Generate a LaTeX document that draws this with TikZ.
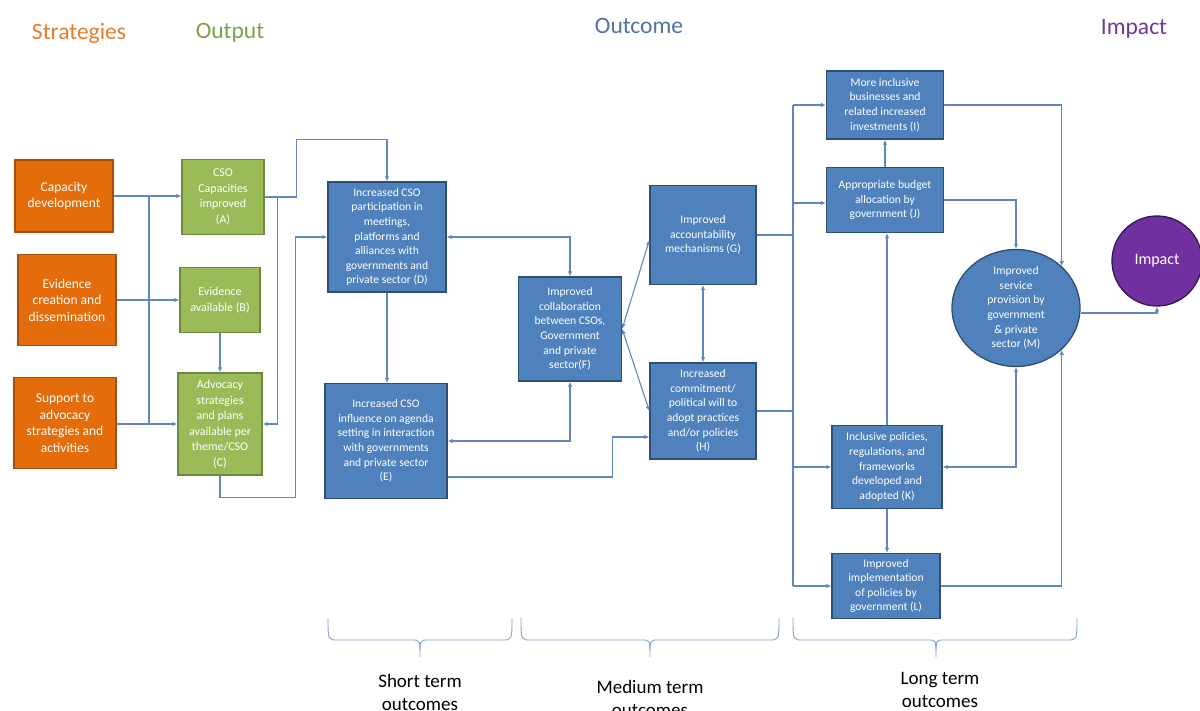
\documentclass[tikz,border=0pt]{standalone}
\usepackage{fontspec}
\setmainfont{Carlito}
\usetikzlibrary{arrows.meta,shapes.geometric}
\definecolor{stratorange}{RGB}{228,108,10}
\definecolor{stratedge}{RGB}{170,78,12}
\definecolor{outgreen}{RGB}{155,187,89}
\definecolor{outedge}{RGB}{110,138,60}
\definecolor{outcblue}{RGB}{79,129,189}
\definecolor{outcedge}{RGB}{45,78,118}
\definecolor{linkblue}{RGB}{95,137,190}
\definecolor{impactpurple}{RGB}{112,48,160}
\definecolor{impactedge}{RGB}{55,22,85}
\definecolor{bracecol}{RGB}{135,160,195}
\definecolor{titleorange}{RGB}{230,125,45}
\definecolor{titlegreen}{RGB}{125,160,70}
\definecolor{titleblue}{RGB}{80,115,165}
\definecolor{titlepurple}{RGB}{112,55,155}

\tikzset{
  stratbox/.style={draw=stratedge, fill=stratorange, line width=1.3pt, text=white, align=center,
    font=\fontsize{13.5}{16.5}\selectfont, inner sep=2pt},
  outbox/.style={draw=outedge, fill=outgreen, line width=1.3pt, text=white, align=center,
    font=\fontsize{12}{15.5}\selectfont, inner sep=2pt},
  outcbox/.style={draw=outcedge, fill=outcblue, line width=1.3pt, text=white, align=center,
    font=\fontsize{11.6}{14.6}\selectfont, inner sep=2pt},
  link/.style={draw=linkblue, line width=1.1pt},
  flow/.style={link, -{Latex[length=5pt,width=4.5pt]}},
  flowboth/.style={link, {Latex[length=5pt,width=4.5pt]}-{Latex[length=5pt,width=4.5pt]}},
  title/.style={font=\fontsize{23.5}{27}\selectfont},
  span/.style={draw=bracecol, line width=0.9pt},
  spanlabel/.style={align=center, font=\fontsize{19}{23}\selectfont}
}

% brace under a column: left x, right x, tip x
\newcommand{\spanbrace}[3]{%
  \draw[span] (#1,618) .. controls (#1,640) .. (#1+10,640) -- (#3-8,640)
    .. controls (#3,640) .. (#3,657) .. controls (#3,640) .. (#3+8,640)
    -- (#2-10,640) .. controls (#2,640) .. (#2,618);}

\begin{document}
\begin{tikzpicture}[x=1pt,y=-1pt]
\clip (0,0) rectangle (1200,711);
\useasboundingbox (0,0) rectangle (1200,711);

% Column titles
\node[title, text=titleorange] (tstrat) at (79,33) {Strategies};
\node[title, text=titlegreen] (tout) at (230,33) {Output};
\node[title, text=titleblue] (toutc) at (639,26) {Outcome};
\node[title, text=titlepurple] (timp) at (1134,29) {Impact};

% Strategies
\node[stratbox, minimum width=98pt, minimum height=72pt] (cap) at (64,196) {Capacity\\development};
\node[stratbox, minimum width=98pt, minimum height=91pt] (evid) at (67,300) {Evidence\\creation and\\dissemination};
\node[stratbox, minimum width=102pt, minimum height=91pt] (supp) at (65,423) {Support to\\advocacy\\strategies and\\activities};

% Outputs
\node[outbox, minimum width=82pt, minimum height=75pt] (outA) at (223,197) {CSO\\Capacities\\improved\\(A)};
\node[outbox, minimum width=80pt, minimum height=65pt] (outB) at (220,300) {Evidence\\available (B)};
\node[outbox, minimum width=84pt, minimum height=102pt] (outC) at (220,424) {Advocacy\\strategies\\and plans\\available per\\theme/CSO\\(C)};

% Outcomes
\node[outcbox, minimum width=118pt, minimum height=110pt] (outD) at (387,237) {Increased CSO\\participation in\\meetings,\\platforms and\\alliances with\\governments and\\private sector (D)};
\node[outcbox, minimum width=122pt, minimum height=115pt] (outE) at (386,441) {Increased CSO\\influence on agenda\\setting in interaction\\with governments\\and private sector\\(E)};
\node[outcbox, minimum width=103pt, minimum height=104pt] (outF) at (570,329) {Improved\\collaboration\\between CSOs,\\Government\\and private\\sector(F)};
\node[outcbox, minimum width=106pt, minimum height=99pt] (outG) at (703,235) {Improved\\accountability\\mechanisms (G)};
\node[outcbox, minimum width=106pt, minimum height=96pt] (outH) at (703,411) {Increased\\commitment/\\political will to\\adopt practices\\and/or policies\\(H)};
\node[outcbox, minimum width=117pt, minimum height=68pt] (outI) at (885,105) {More inclusive\\businesses and\\related increased\\investments (I)};
\node[outcbox, minimum width=117pt, minimum height=65pt] (outJ) at (885,200) {Appropriate budget\\allocation by\\government (J)};
\node[outcbox, minimum width=110pt, minimum height=83pt] (outK) at (887,467) {Inclusive policies,\\regulations, and\\frameworks\\developed and\\adopted (K)};
\node[outcbox, minimum width=108pt, minimum height=65pt] (outL) at (886,586) {Improved\\implementation\\of policies by\\government (L)};
\node[outcbox, ellipse, inner sep=0pt, minimum width=128pt, minimum height=104pt] (outM) at (1016,308) {Improved\\service\\provision by\\government\\\& private\\sector (M)};

% Impact
\node[circle, draw=impactedge, fill=impactpurple, line width=1.3pt, text=white, minimum size=90pt,
  font=\fontsize{16}{19}\selectfont] (impact) at (1157,261) {Impact};

% Strategies to outputs
\coordinate (busL) at (149,0);
\draw[flow] (cap.east) -- (cap.east -| outA.west);
\draw[link] (cap.east -| busL) -- (outC.west -| busL);
\draw[flow] (evid.east) -- (evid.east -| outB.west);
\draw[flow] (supp.east |- outC.west) -- (outC.west);
\draw[flow] (outB.south) -- (outC.north);
\draw[flow] (outA.east) -- ++(13,0) |- (outC.east);

% Outputs to short term outcomes
\draw[flow] (outA.east) -- ++(32,0) |- ([yshift=42pt]outD.north) -- (outD.north);
\draw[flow] (outC.south) -- ++(0,22) -| ([xshift=-32pt]outD.west) -- (outD.west);
\draw[flow] (outD.south) -- (outD.south |- outE.north);

% Short to medium term
\draw[flowboth] (outD.east) -| (outF.north);
\draw[flowboth] (outE.east) -| (outF.south);
\draw[flow] ([yshift=-36pt]outE.east) -- ++(165,0) |- ([yshift=-26pt]outH.west);
\draw[flowboth] (outF.east) -- ([yshift=-5pt]outG.west);
\draw[flowboth] (outF.east) -- (outH.west);
\draw[flowboth] (outG.south) -- (outH.north);

% Medium to long term
\coordinate (busR) at (793,0);
\draw[link] (outG.east) -- (outG.east -| busR);
\draw[link] (outH.east) -- (outH.east -| busR);
\draw[link] (outI.west -| busR) -- (outL.west -| busR);
\draw[flow] (outI.west -| busR) -- (outI.west);
\draw[flow] ([yshift=-3pt]outJ.west -| busR) -- ([yshift=-3pt]outJ.west);
\draw[flow] (outK.west -| busR) -- (outK.west);
\draw[flow] (outL.west -| busR) -- (outL.west);
\draw[flow] (outJ.north) -- (outI.south);
\draw[flow] (outK.north) -- (outK.north |- outJ.south);
\draw[flow] (outK.south) -- (outK.south |- outL.north);

% Long term to service provision and impact
\draw[flow] (outJ.east) -| (outM.north);
\draw[flow] (outI.east) -| (outM.north east);
\draw[flowboth] (outK.east) -| (outM.south);
\draw[flow] (outL.east) -| (outM.south east);
\draw[flow] ([yshift=-5pt]outM.east) -| (impact.south);

% Time spans
\spanbrace{328}{512}{420}
\spanbrace{521}{779}{650}
\spanbrace{793}{1077}{936}
\node[spanlabel] (lshort) at (420,692) {Short term\\outcomes};
\node[spanlabel] (lmed) at (650,698) {Medium term\\outcomes};
\node[spanlabel] (llong) at (940,690) {Long term\\outcomes};
\end{tikzpicture}
\end{document}
